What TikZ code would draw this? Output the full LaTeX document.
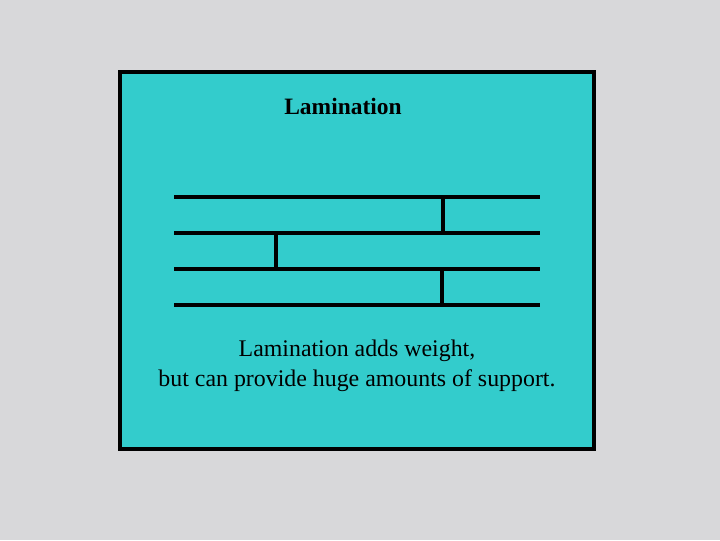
\documentclass[tikz,border=0pt]{standalone}
\usepackage{fontspec}
\setmainfont{Liberation Serif}
\definecolor{marble}{HTML}{D8D8DA}
\definecolor{teal}{HTML}{33CCCC}
\tikzset{
  plank/.style={line width=3pt, line cap=butt},
  joint/.style={line width=2.4pt},
  body/.style={font=\fontsize{17.9pt}{22.5pt}\selectfont, align=center, inner sep=0pt}
}
\begin{document}
\begin{tikzpicture}[x=0.75pt,y=-0.75pt]
\useasboundingbox (0,0) rectangle (720,540);
\fill[marble] (0,0) rectangle (720,540);
\filldraw[fill=teal, draw=black, line width=3pt] (120,72) rectangle (594,449);
\node[font=\fontsize{17.6pt}{20pt}\selectfont\bfseries, inner sep=0pt] (title) at (343,106) {Lamination};
\foreach \y in {197,233,269,305} \draw[plank] (174,\y) -- (540,\y);
\draw[joint] (443,197) -- (443,233);
\draw[joint] (276,233) -- (276,269);
\draw[joint] (442,269) -- (442,305);
\node[body] (caption) at (357,366) {Lamination adds weight,\\but can provide huge amounts of support.};
\end{tikzpicture}
\end{document}
